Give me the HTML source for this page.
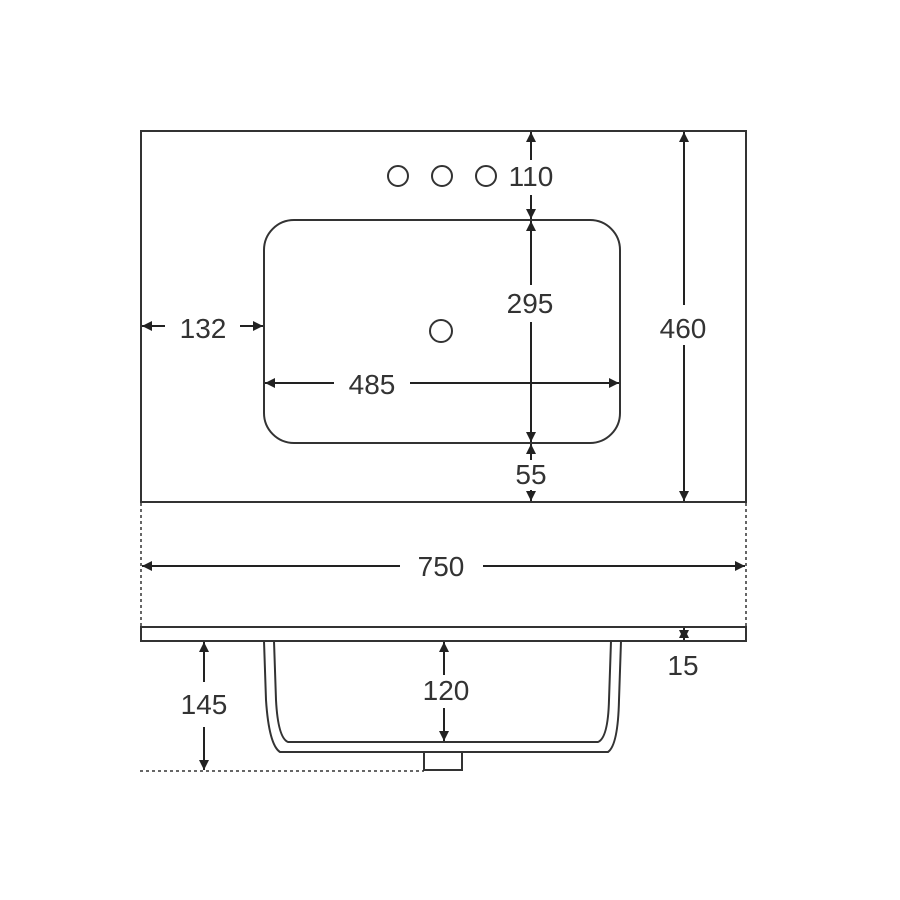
<!DOCTYPE html>
<html><head><meta charset="utf-8"><style>
html,body{margin:0;padding:0;background:#fff}
svg{display:block}
text{font-family:"Liberation Sans",sans-serif;font-size:28px;fill:#333;text-anchor:middle}
</style></head><body>
<svg width="900" height="900" viewBox="0 0 900 900" xmlns="http://www.w3.org/2000/svg">
<defs>
<marker id="a" viewBox="0 0 10 10" refX="10" refY="5" markerWidth="10" markerHeight="10" markerUnits="userSpaceOnUse" orient="auto"><path d="M0,0L10,5L0,10z" fill="#222"/></marker>
</defs>
<g fill="none" stroke="#333" stroke-width="2">
<rect x="141" y="131" width="605" height="371"/>
<rect x="264" y="220" width="356" height="223" rx="30"/>
<circle cx="398" cy="176" r="10"/><circle cx="442" cy="176" r="10"/><circle cx="486" cy="176" r="10"/>
<circle cx="441" cy="331" r="11"/>
<rect x="141" y="627" width="605" height="14"/>
<path d="M264,641 L266,700 Q269,745 280,752 L608,752 Q618,745 619,700 L621,641"/>
<path d="M274,641 L276,700 Q278,738 288,742 L598,742 Q608,738 609,700 L611,641"/>
<rect x="424" y="752" width="38" height="18"/>
</g>
<g fill="none" stroke="#333" stroke-width="1.5" stroke-dasharray="3,3">
<line x1="141" y1="503" x2="141" y2="626"/><line x1="746" y1="503" x2="746" y2="626"/>
<line x1="140" y1="771" x2="424" y2="771"/>
</g>
<g stroke="#222" stroke-width="2" marker-end="url(#a)">
<line x1="531" y1="160" x2="531" y2="132"/><line x1="531" y1="195" x2="531" y2="219"/>
<line x1="531" y1="285" x2="531" y2="221"/><line x1="531" y1="322" x2="531" y2="442"/>
<line x1="531" y1="460" x2="531" y2="444"/><line x1="531" y1="490" x2="531" y2="501"/>
<line x1="684" y1="305" x2="684" y2="132"/><line x1="684" y1="345" x2="684" y2="501"/>
<line x1="165" y1="326" x2="142" y2="326"/><line x1="240" y1="326" x2="263" y2="326"/>
<line x1="334" y1="383" x2="265" y2="383"/><line x1="410" y1="383" x2="619" y2="383"/>
<line x1="400" y1="566" x2="142" y2="566"/><line x1="483" y1="566" x2="745" y2="566"/>
<line x1="684" y1="634" x2="684" y2="628"/><line x1="684" y1="634" x2="684" y2="640"/>
<line x1="204" y1="682" x2="204" y2="642"/><line x1="204" y1="727" x2="204" y2="770"/>
<line x1="444" y1="675" x2="444" y2="642"/><line x1="444" y1="708" x2="444" y2="741"/>
</g>
<text x="531" y="186">110</text>
<text x="530" y="313">295</text>
<text x="531" y="484">55</text>
<text x="683" y="338">460</text>
<text x="203" y="338">132</text>
<text x="372" y="394">485</text>
<text x="441" y="576">750</text>
<text x="683" y="675">15</text>
<text x="204" y="714">145</text>
<text x="446" y="700">120</text>
</svg>
</body></html>
